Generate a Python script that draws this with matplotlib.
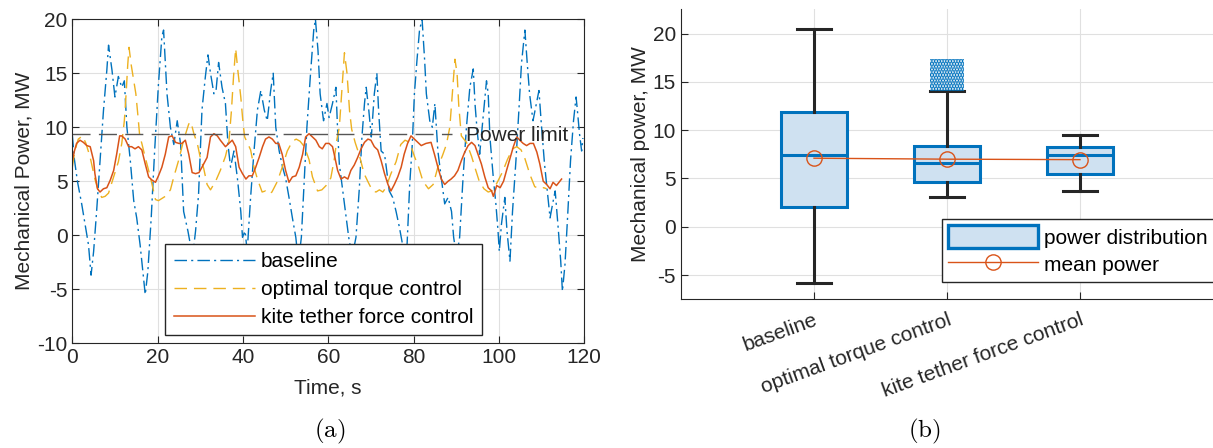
import matplotlib
matplotlib.use('Agg')
import matplotlib.pyplot as plt
from matplotlib.patches import Patch, Rectangle
from matplotlib.lines import Line2D

# ---- (a) time series ----
base_t = [0.0, 0.5, 1.2, 2.2, 3.0, 3.8, 4.4, 5.0, 5.7, 6.5, 7.3, 8.1, 8.5, 9.3, 10.0, 10.8,
          11.6, 12.2, 12.8, 13.6, 14.4, 15.1, 15.9, 17.1, 17.7, 18.5, 19.3, 20.2, 21.0, 21.4,
          22.2, 23.0, 23.8, 24.6, 25.4, 26.1, 27.1, 28.2, 28.9, 29.6, 30.4, 31.2, 31.8, 32.4,
          33.2, 33.7, 34.3, 35.1, 35.9, 36.5, 37.1, 37.9, 38.7, 39.5, 39.9, 40.5, 41.0, 41.8,
          42.6, 43.4, 44.2, 45.0, 45.7, 46.5, 47.1, 47.7, 48.5, 49.3, 50.0, 50.8, 51.6, 52.4,
          53.0, 53.7, 54.2, 55.0, 55.8, 56.6, 57.0, 57.6, 58.1, 58.9, 59.7, 60.2, 61.0, 61.8,
          62.2, 62.6, 63.4, 64.2, 64.8, 65.6, 66.5, 67.3, 67.9, 68.5, 68.9, 69.5, 70.1, 70.8,
          71.4, 71.8, 72.4, 73.2, 73.7, 74.3, 75.1, 75.9, 76.7, 77.3, 78.3, 79.1, 79.7, 80.2,
          80.8, 81.4, 82.0, 82.6, 83.0, 83.8, 84.4, 85.0, 85.7, 86.5, 87.3, 88.1, 88.9, 89.4,
          90.1, 90.8, 91.6, 92.4, 93.2, 94.0, 94.4, 94.9, 95.5, 96.3, 97.1, 97.5, 97.9, 98.7,
          99.3, 99.8, 100.1, 100.6, 101.4, 101.9, 102.6, 103.2, 104.0, 104.7, 105.3, 106.1,
          106.6, 107.2, 108.0, 108.8, 109.4, 109.9, 110.7, 111.5, 112.0, 112.6, 113.2, 113.9,
          114.5, 114.9, 115.5, 116.1, 116.8, 117.5, 118.1, 118.4, 118.9, 119.4, 119.7]
base_p = [9.3, 7.0, 5.0, 2.9, 1.0, -0.9, -3.7, -1.5, 2.2, 6.9, 11.5, 15.3, 17.6, 15.3, 12.8, 14.7,
          13.7, 14.3, 10.0, 6.9, 3.2, 1.6, -0.9, -5.5, -3.4, 1.6, 7.8, 14.0, 18.4, 19.0,
          13.1, 10.0, 8.4, 10.6, 8.4, 2.2, 0.4, -2.0, 0.4, 3.8, 11.6, 14.7, 16.7, 15.0,
          13.1, 13.4, 16.0, 13.7, 12.2, 8.4, 6.3, 7.8, 5.3, 2.2, -0.2, 0.4, -1.5, 3.5,
          7.8, 11.6, 13.4, 11.6, 10.6, 13.4, 15.0, 10.0, 7.8, 6.3, 5.3, 3.5, 1.6, -0.2,
          -2.5, -0.2, 3.8, 10.0, 14.7, 19.0, 20.0, 17.1, 13.1, 10.6, 12.2, 10.9, 12.2, 13.7,
          9.7, 6.6, 4.1, 1.6, -0.2, -2.0, -0.2, 4.4, 9.1, 12.2, 13.7, 11.6, 9.1, 13.1,
          15.0, 11.6, 7.8, 7.5, 6.0, 4.1, 3.5, 2.2, 0.7, -0.6, -2.5, 4.7, 8.4, 13.1,
          16.2, 19.0, 20.0, 16.2, 13.1, 10.6, 10.0, 12.2, 7.8, 5.3, 2.9, 3.5, 2.2, -0.2,
          -2.0, -0.2, 5.3, 10.0, 13.7, 15.4, 12.2, 9.7, 7.5, 10.9, 14.3, 13.1, 9.1, 5.3,
          2.9, 0.4, -1.5, 1.0, 3.5, 0.4, -2.4, 2.2, 6.9, 11.6, 15.9, 19.0,
          16.2, 13.1, 10.6, 12.2, 13.4, 10.6, 6.6, 3.5, 1.6, 2.9, 4.1, 0.7,
          -2.4, -5.2, -2.7, 1.6, 6.9, 10.6, 12.8, 11.6, 9.4, 7.8, 9.0]

otc_t = [0.0, 0.6, 1.4, 2.4, 3.2, 4.2, 5.3, 6.1, 6.9, 7.7, 8.5, 9.7, 10.8, 11.6, 12.2, 12.6,
         13.0, 13.3, 13.8, 14.4, 14.9, 15.4, 15.8, 16.3, 17.1, 17.9, 18.7, 19.5, 20.2, 21.0,
         21.8, 23.0, 23.8, 24.9, 26.1, 27.3, 27.8, 28.5, 29.3, 30.0, 30.8, 31.6, 32.4, 33.6,
         34.7, 35.9, 36.7, 37.3, 37.8, 38.3, 38.8, 39.5, 40.0, 40.4, 41.0, 41.8, 42.6, 43.4,
         44.5, 45.3, 46.1, 46.8, 48.1, 49.3, 50.4, 51.6, 52.5, 53.4, 54.4, 55.5, 56.3, 57.5,
         58.5, 59.5, 60.6, 61.4, 62.0, 62.6, 63.2, 63.8, 64.4, 65.0, 65.5, 66.3, 67.3, 68.4,
         69.5, 70.4, 71.2, 72.0, 72.8, 73.5, 74.7, 75.9, 77.0, 78.0, 79.1, 80.2, 81.2, 82.2,
         83.5, 84.6, 85.7, 86.8, 87.7, 88.5, 89.1, 89.7, 90.2, 90.6, 91.2, 92.4, 93.6, 94.6,
         95.4, 96.5, 97.5, 98.3, 99.5, 100.9, 102.0, 103.2, 104.2, 105.2, 106.1, 107.3, 108.4,
         109.5, 110.5, 111.2]
otc_p = [6.3, 7.8, 8.9, 9.2, 8.5, 7.2, 5.2, 4.1, 3.5, 3.6, 3.9, 5.4, 6.8, 8.5, 10.6, 13.0,
         15.8, 17.4, 15.8, 14.3, 13.1, 11.0, 9.2, 8.5, 7.2, 6.0, 4.7, 3.3, 3.2, 3.4,
         3.6, 4.2, 5.4, 6.9, 8.8, 10.3, 10.5, 9.4, 8.5, 7.2, 6.2, 4.7, 4.2, 5.0,
         6.0, 7.3, 8.6, 11.5, 14.7, 17.3, 15.3, 12.8, 10.5, 9.1, 8.6, 7.9, 6.3, 5.2,
         4.0, 4.1, 3.8, 4.0, 5.0, 6.4, 7.8, 8.7, 8.9, 8.7, 8.2, 7.0, 5.4, 4.1,
         4.2, 4.6, 5.3, 7.0, 8.8, 10.0, 13.5, 16.9, 15.0, 11.5, 9.8, 8.6, 7.4, 5.7,
         4.8, 4.1, 4.0, 4.2, 4.0, 4.4, 5.7, 6.8, 8.4, 8.8, 8.6, 7.3, 6.3, 5.0,
         4.3, 4.7, 6.3, 7.4, 8.4, 10.0, 13.1, 16.3, 15.0, 12.0, 9.2, 8.6, 7.3, 6.0,
         5.0, 4.3, 4.0, 4.1, 4.8, 5.9, 7.0, 8.0, 8.2, 7.9, 7.1, 5.6, 4.5,
         4.3, 4.4, 4.3]

ktf_t = [0.0, 0.5, 1.0, 1.8, 2.6, 3.4, 4.2, 5.0, 5.3, 5.9, 6.5, 7.3, 8.1, 8.9, 9.7, 10.4,
         11.1, 11.6, 12.4, 13.2, 13.9, 14.7, 15.5, 16.3, 17.1, 17.9, 18.7, 19.5, 20.2, 21.0,
         21.8, 22.6, 23.4, 24.2, 25.0, 25.7, 26.5, 27.3, 28.1, 28.9, 29.7, 30.4, 31.6, 32.4,
         33.2, 34.0, 34.7, 35.9, 36.7, 37.5, 38.3, 39.1, 39.9, 40.7, 41.4, 42.2, 43.0, 43.8,
         44.6, 45.3, 46.1, 46.9, 47.7, 48.4, 49.2, 50.0, 50.8, 51.6, 52.4, 53.2, 54.0, 54.7,
         55.5, 56.3, 57.1, 57.9, 58.6, 59.4, 60.2, 61.0, 61.4, 62.2, 63.0, 63.8, 64.6, 65.3,
         66.1, 66.9, 67.7, 68.5, 69.3, 70.0, 70.8, 71.6, 72.4, 73.2, 74.0, 74.7, 75.5, 76.3,
         77.1, 77.8, 78.6, 79.4, 80.2, 81.0, 81.8, 82.9, 84.1, 84.9, 85.7, 86.5, 87.3, 88.1,
         88.8, 89.6, 90.4, 91.2, 92.0, 92.8, 93.6, 94.4, 95.1, 95.9, 96.7, 97.5, 98.3, 98.7,
         99.5, 100.3, 101.1, 101.8, 102.6, 103.4, 104.2, 104.9, 105.7, 106.5, 107.3, 108.1,
         108.9, 109.6, 110.4, 111.2, 112.0, 112.7, 113.5, 114.3, 114.7]
ktf_p = [6.9, 7.8, 8.5, 8.8, 8.6, 8.3, 8.2, 6.9, 5.7, 4.3, 4.0, 4.3, 4.4, 5.1, 6.0, 7.5,
         9.2, 9.2, 8.9, 8.2, 8.2, 8.0, 8.2, 7.9, 6.6, 5.4, 5.1, 4.9, 5.5, 6.3,
         7.5, 9.1, 9.2, 8.6, 8.5, 8.5, 8.8, 7.5, 5.8, 5.7, 5.8, 6.3, 7.2, 9.1,
         9.4, 9.2, 8.8, 8.2, 8.5, 8.8, 8.2, 6.3, 5.7, 5.2, 5.5, 5.5, 6.3, 7.2,
         8.2, 8.9, 9.1, 8.9, 8.5, 8.5, 7.5, 6.0, 4.9, 5.4, 5.5, 6.3, 7.5, 9.1,
         9.4, 9.1, 8.8, 8.2, 8.0, 8.5, 8.5, 8.2, 7.5, 6.0, 5.2, 5.4, 5.2, 6.0,
         6.5, 7.2, 8.0, 8.6, 8.9, 8.8, 8.2, 7.9, 6.9, 5.7, 4.7, 4.1, 4.7, 5.4,
         6.3, 7.5, 8.5, 9.2, 8.9, 8.6, 8.3, 8.5, 8.6, 7.5, 6.3, 5.2, 4.7, 5.0,
         5.2, 5.5, 6.0, 6.9, 7.7, 8.3, 8.6, 8.3, 7.5, 6.6, 5.4, 4.4, 4.1, 3.6,
         4.6, 4.4, 5.0, 6.0, 7.1, 8.2, 9.1, 8.8, 8.5, 8.3, 8.5, 8.5,
         7.7, 6.6, 5.0, 4.7, 4.3, 4.9, 4.6, 5.0, 5.2]

power_limit = 9.4
limit_end = 89.0

# ---- (b) distribution statistics ----
categories = ['baseline', 'optimal torque control', 'kite tether force control']
whis_lo = [-5.8, 3.1, 3.7]
q1 = [2.1, 4.6, 5.5]
median = [7.4, 6.6, 7.4]
q3 = [11.9, 8.4, 8.3]
whis_hi = [20.5, 14.1, 9.45]
mean_power = [7.1, 7.0, 6.95]
outlier_lo = 14.1   # optimal torque control outliers span
outlier_hi = 17.4

BLUE = '#0072BD'
ORANGE = '#D95319'
YELLOW = '#EDB120'
DARK = '#262626'
FILL = '#cfe1f1'
FS = 15

plt.rcParams['font.family'] = ['Liberation Sans', 'DejaVu Sans']
plt.rcParams['font.size'] = FS
plt.rcParams['axes.unicode_minus'] = False
plt.rcParams['mathtext.fontset'] = 'cm'
plt.rcParams['hatch.linewidth'] = 1.8

fig = plt.figure(figsize=(12.13, 4.48), dpi=100)

# ---------------- (a) ----------------
ax1 = fig.add_axes([0.0596, 0.234, 0.422, 0.723])
ax1.plot(base_t, base_p, color=BLUE, lw=1.0, dashes=(9, 3, 1.5, 3), label='baseline')
ax1.plot(otc_t, otc_p, color=YELLOW, lw=1.0, dashes=(9, 5), label='optimal torque control')
ax1.plot(ktf_t, ktf_p, color=ORANGE, lw=1.1, label='kite tether force control')
ax1.plot([0, limit_end], [power_limit, power_limit], color='#555555', lw=1.0, dashes=(13, 6))
ax1.text(92.3, power_limit - 0.2, 'Power limit', color=DARK, fontsize=FS, va='center')

ax1.set_xlim(0, 120)
ax1.set_ylim(-10, 20)
ax1.set_xticks(range(0, 121, 20))
ax1.set_yticks(range(-10, 21, 5))
ax1.grid(True, color='#e0e0e0', lw=0.8)
ax1.set_axisbelow(True)
ax1.tick_params(direction='in', top=True, right=True, colors=DARK, labelsize=FS, length=5)
for s in ax1.spines.values():
    s.set_color(DARK)
ax1.set_xlabel('Time, s', color=DARK, labelpad=8)
ax1.set_ylabel('Mechanical Power, MW', color=DARK, labelpad=3)
leg1 = ax1.legend(loc='lower left', bbox_to_anchor=(0.1816, 0.0247), handlelength=3.9,
                  handletextpad=0.3, borderpad=0.4, labelspacing=0.42, fancybox=False,
                  framealpha=1, edgecolor=DARK, fontsize=FS, borderaxespad=0)
leg1.get_frame().set_linewidth(1.0)

# ---------------- (b) ----------------
ax2 = fig.add_axes([0.5614, 0.332, 0.4386, 0.647])
stats = []
for i in range(len(categories)):
    stats.append({'whislo': whis_lo[i], 'q1': q1[i], 'med': median[i], 'q3': q3[i],
                  'whishi': whis_hi[i], 'fliers': [], 'label': categories[i]})
pos = [1, 2, 3]
ax2.bxp(stats, positions=pos, widths=0.5, capwidths=0.25, patch_artist=True, showfliers=False,
        boxprops=dict(facecolor=FILL, edgecolor=BLUE, lw=2.2),
        medianprops=dict(color=BLUE, lw=2.2),
        whiskerprops=dict(color=DARK, lw=2.2),
        capprops=dict(color=DARK, lw=2.2))
ax2.add_patch(Rectangle((2 - 0.13, outlier_lo), 0.26, outlier_hi - outlier_lo,
                        facecolor='none', edgecolor=BLUE, lw=0, hatch='......', zorder=3))
ax2.plot(pos, mean_power, color=ORANGE, lw=1.0, marker='o', ms=11, mfc='none', mew=1.0, zorder=4)

ax2.set_xlim(0, 4)
ax2.set_ylim(-7.5, 22.5)
ax2.set_yticks(range(-5, 21, 5))
ax2.set_xticks(pos)
ax2.set_xticklabels(categories, rotation=20, ha='right', rotation_mode='anchor')
ax2.grid(True, color='#e0e0e0', lw=0.8)
ax2.set_axisbelow(True)
ax2.tick_params(direction='in', colors=DARK, labelsize=FS, length=5)
ax2.tick_params(axis='x', pad=8)
ax2.spines['top'].set_visible(False)
ax2.spines['right'].set_visible(False)
for s in ax2.spines.values():
    s.set_color(DARK)
ax2.set_ylabel('Mechanical power, MW', color=DARK, labelpad=2)

h_box = Patch(facecolor=FILL, edgecolor=BLUE, lw=2.4)
h_mean = Line2D([], [], color=ORANGE, lw=1.0, marker='o', ms=11, mfc='none')
leg2 = ax2.legend([h_box, h_mean], ['power distribution', 'mean power'], loc='lower left',
                  bbox_to_anchor=(0.483, 0.045), handlelength=4.3, handleheight=1.3,
                  handletextpad=0.3, borderpad=0.3, labelspacing=0.25, fancybox=False,
                  framealpha=1, edgecolor=DARK, fontsize=FS, borderaxespad=0.2)
leg2.get_frame().set_linewidth(1.0)

fig.text(0.272, 0.036, r'$\mathrm{(a)}$', ha='center', va='center', fontsize=18)
fig.text(0.762, 0.036, r'$\mathrm{(b)}$', ha='center', va='center', fontsize=18)

fig.savefig('out.png', dpi=100)
